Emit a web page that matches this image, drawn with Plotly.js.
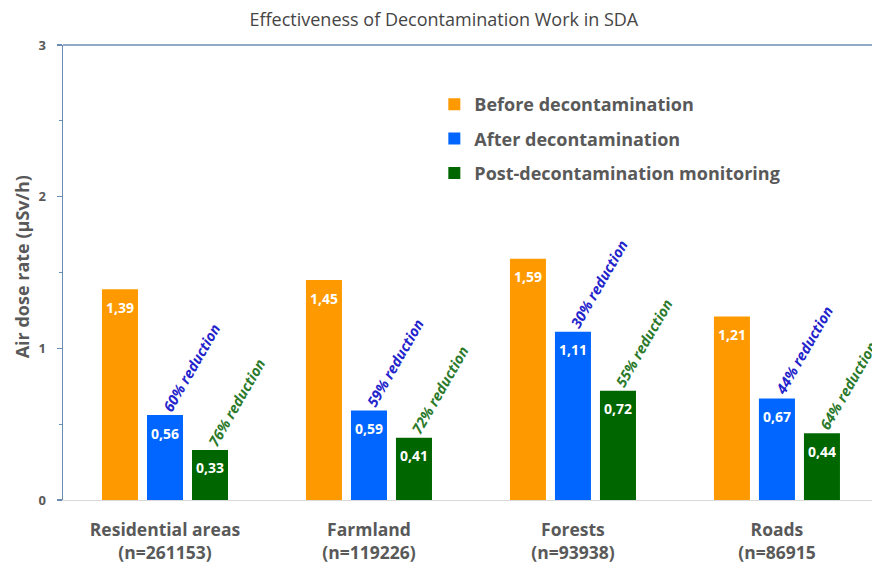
<!DOCTYPE html>
<html>
<head>
<meta charset="utf-8">
<script src="https://cdn.plot.ly/plotly-3.0.1.min.js"></script>
<style>html,body{margin:0;padding:0;background:#fff;}#chart{width:872px;height:567px;}</style>
</head>
<body>
<div id="chart"></div>
<script>
// ---- data ----
const categories = ['Residential areas', 'Farmland', 'Forests', 'Roads'];
const sampleSizes = ['(n=261153)', '(n=119226)', '(n=93938)', '(n=86915'];
const seriesNames = ['Before decontamination', 'After decontamination', 'Post-decontamination monitoring'];
const beforeValues = [1.39, 1.45, 1.59, 1.21];
const afterValues = [0.56, 0.59, 1.11, 0.67];
const postValues = [0.33, 0.41, 0.72, 0.44];
const afterReduction = [60, 59, 30, 44];
const postReduction = [76, 72, 55, 64];
const yTicks = [0, 1, 2, 3];

// ---- styles ----
const FONT = '"Open Sans", "Liberation Sans", sans-serif';
const GREY = '#595959';
const AXIS = '#6a8cb3';
const barColors = ['#ff9900', '#0066ff', '#006600'];
const reductionColors = ['#2323cc', '#2b7a2b'];
const BARGAP = 0.338;

const xLabels = categories.map((c, i) => c + '<br>' + sampleSizes[i]);
const allSeries = [beforeValues, afterValues, postValues];

const traces = allSeries.map((vals, k) => ({
  type: 'bar',
  name: seriesNames[k],
  x: xLabels,
  y: vals,
  marker: {color: barColors[k], line: {width: 0}},
  legendgroup: 'g' + k,
  hoverinfo: 'skip'
}));

const slot = (1 - BARGAP) / 3;
const fmt = v => v.toFixed(2).replace('.', ',');
const annotations = [];

// value labels inside bars
allSeries.forEach((vals, k) => {
  vals.forEach((v, i) => {
    annotations.push({
      xref: 'x', yref: 'y', x: i + (k - 1) * slot, y: v,
      text: fmt(v), showarrow: false,
      yanchor: 'middle', xanchor: 'center', yshift: -18,
      font: {family: FONT, size: 14, color: '#ffffff', weight: 'bold'}
    });
  });
});

// reduction labels
[[afterValues, afterReduction], [postValues, postReduction]].forEach((pair, j) => {
  const [vals, red] = pair;
  vals.forEach((v, i) => {
    annotations.push({
      xref: 'x', yref: 'y', x: i + j * slot, y: v,
      text: '<i>' + red[i] + '% reduction</i>', showarrow: false,
      textangle: -60, xanchor: 'left', yanchor: 'bottom', xshift: -9, yshift: -2,
      font: {family: FONT, size: 14.5, color: reductionColors[j], weight: 'bold'}
    });
  });
});

// y axis title
annotations.push({
  xref: 'paper', yref: 'paper', x: -0.051, y: 0.513,
  text: 'Air dose rate (µSv/h)', showarrow: false, textangle: -90,
  xanchor: 'center', yanchor: 'middle',
  font: {family: FONT, size: 18, color: GREY, weight: 'bold'}
});

const layout = {
  width: 872, height: 567,
  margin: {l: 63, r: 0, t: 45, b: 67},
  paper_bgcolor: '#ffffff', plot_bgcolor: '#ffffff',
  title: {
    text: 'Effectiveness of Decontamination Work in SDA',
    x: 0.509, xanchor: 'center', y: 0.966, yanchor: 'middle',
    font: {family: FONT, size: 18, color: '#454545'}
  },
  barmode: 'group',
  bargap: BARGAP,
  bargroupgap: 0.2,
  showlegend: true,
  legend: {
    x: 0.459, xanchor: 'left', y: 0.91, yanchor: 'top',
    font: {family: FONT, size: 18, color: GREY, weight: 'bold'},
    tracegroupgap: 8, bgcolor: 'rgba(0,0,0,0)'
  },
  xaxis: {
    type: 'category',
    range: [-0.5, 3.466],
    showline: true, linecolor: '#d9d9d9', linewidth: 1,
    ticks: '', showgrid: false, zeroline: false,
    tickfont: {family: FONT, size: 17.5, color: GREY, weight: 'bold'},
    ticklabelstandoff: 14
  },
  yaxis: {
    range: [0, 3],
    tickvals: yTicks,
    ticktext: yTicks.map(String),
    showline: true, linecolor: AXIS, linewidth: 1.5,
    ticks: 'outside', ticklen: 5, tickcolor: AXIS, tickwidth: 1.5,
    minor: {dtick: 0.5, ticks: 'outside', ticklen: 3, tickcolor: AXIS, tickwidth: 1},
    showgrid: false, zeroline: false,
    tickfont: {family: FONT, size: 13, color: GREY, weight: 'bold'},
    ticklabelstandoff: 8
  },
  shapes: [{
    type: 'line', xref: 'paper', yref: 'paper', x0: 0, x1: 1, y0: 1, y1: 1,
    line: {color: AXIS, width: 1.5}
  }],
  annotations: annotations
};

Plotly.newPlot('chart', traces, layout, {displayModeBar: false, staticPlot: true});
</script>
</body>
</html>
